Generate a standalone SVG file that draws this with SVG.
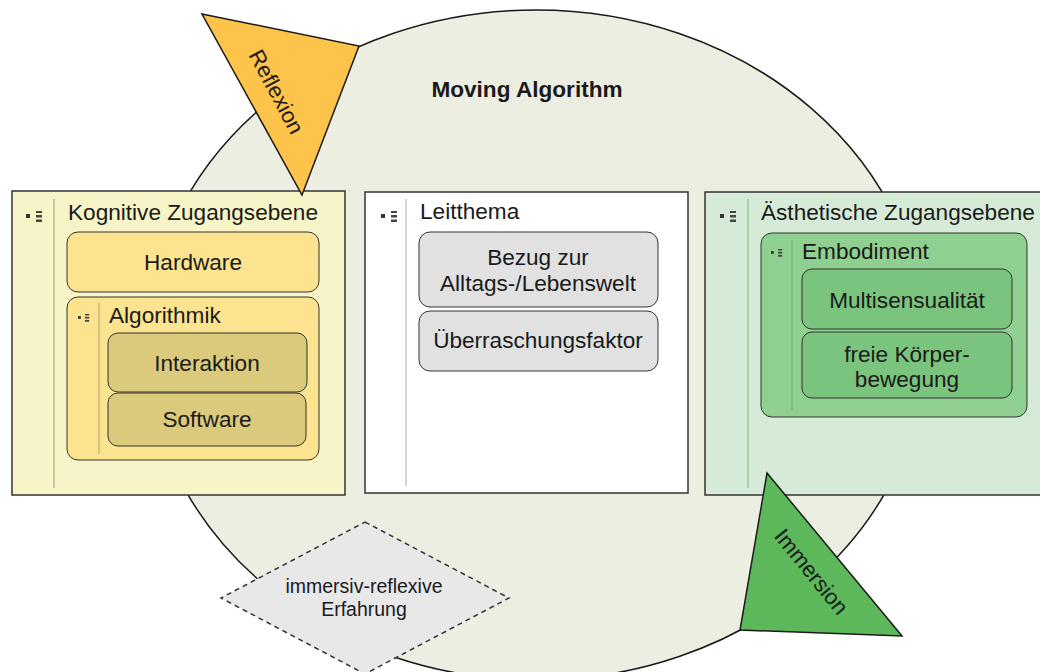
<svg xmlns="http://www.w3.org/2000/svg" width="1040" height="672" viewBox="0 0 1040 672">
  <style>
    text { font-family: "Liberation Sans", Arial, sans-serif; fill: #1a1a1a; }
    .lbl { font-size: 22.6px; }
    .mid { text-anchor: middle; }
    .outer { stroke: #333; stroke-width: 1.5; }
    .inner { stroke: #333; stroke-width: 1; }
    .tri { stroke: #1a1a1a; stroke-width: 1.5; stroke-linejoin: miter; }
  </style>
  <defs>
    <!-- small collapse/expand glyph shown at the top-left of each container -->
    <g id="fold">
      <rect x="0" y="3" width="4" height="4" fill="#333"/>
      <rect x="10" y="0" width="6" height="2" fill="#444"/>
      <rect x="10" y="4" width="6" height="2.5" fill="#444"/>
      <rect x="10" y="8.5" width="6" height="2.5" fill="#444"/>
    </g>
  </defs>

  <rect width="1040" height="672" fill="#ffffff"/>

  <!-- background cycle -->
  <g id="cycle">
    <ellipse cx="536" cy="345" rx="389" ry="335" fill="#eceee1" stroke="#1a1a1a" stroke-width="1.5"/>
    <text x="527" y="97" class="mid" style="font-size:22.6px;font-weight:bold">Moving Algorithm</text>
  </g>

  <!-- cognitive access level -->
  <g id="kognitiv">
    <rect x="12" y="191" width="333" height="304" fill="#f7f5c7" class="outer"/>
    <use href="#fold" x="26" y="211"/>
    <line x1="54" y1="199" x2="54" y2="488" stroke="#b9b79a" stroke-width="1.5"/>
    <text x="68" y="220" class="lbl">Kognitive Zugangsebene</text>
    <g id="hardware">
      <rect x="67" y="232" width="252" height="60" rx="11" fill="#fce390" class="inner"/>
      <text x="193" y="270" class="lbl mid">Hardware</text>
    </g>
    <g id="algorithmik">
      <rect x="67" y="297" width="252" height="163" rx="11" fill="#fce390" class="inner"/>
      <use href="#fold" x="78" y="314" transform="translate(78 314) scale(0.7) translate(-78 -314)"/>
      <line x1="99" y1="303" x2="99" y2="454" stroke="#c9b879" stroke-width="1.5"/>
      <text x="109" y="323" class="lbl">Algorithmik</text>
      <g id="interaktion">
        <rect x="108" y="333" width="199" height="59" rx="10" fill="#dbca7b" class="inner"/>
        <text x="207" y="371" class="lbl mid">Interaktion</text>
      </g>
      <g id="software">
        <rect x="108" y="393" width="198" height="53" rx="10" fill="#dbca7b" class="inner"/>
        <text x="207" y="427" class="lbl mid">Software</text>
      </g>
    </g>
  </g>

  <!-- guiding theme -->
  <g id="leitthema">
    <rect x="365" y="192" width="323" height="301" fill="#ffffff" class="outer"/>
    <use href="#fold" x="381" y="211"/>
    <line x1="406" y1="199" x2="406" y2="486" stroke="#c4c4c4" stroke-width="1.5"/>
    <text x="420" y="219" class="lbl">Leitthema</text>
    <g id="bezug">
      <rect x="419" y="232" width="239" height="75" rx="11" fill="#e1e1e1" class="inner"/>
      <text x="538" y="265" class="lbl mid">Bezug zur</text>
      <text x="538" y="291" class="lbl mid">Alltags-/Lebenswelt</text>
    </g>
    <g id="ueberraschung">
      <rect x="419" y="311" width="239" height="60" rx="11" fill="#e1e1e1" class="inner"/>
      <text x="538" y="348" class="lbl mid">Überraschungsfaktor</text>
    </g>
  </g>

  <!-- aesthetic access level -->
  <g id="aesthetisch">
    <rect x="705" y="192" width="345" height="303" fill="#d6ead8" class="outer"/>
    <use href="#fold" x="720" y="211"/>
    <line x1="748" y1="199" x2="748" y2="488" stroke="#9dc3a0" stroke-width="1.5"/>
    <text x="761" y="220" class="lbl">Ästhetische Zugangsebene</text>
    <g id="embodiment">
      <rect x="761" y="233" width="266" height="184" rx="11" fill="#8fcf8f" class="inner"/>
      <use href="#fold" x="771" y="249" transform="translate(771 249) scale(0.7) translate(-771 -249)"/>
      <line x1="792" y1="240" x2="792" y2="410" stroke="#74b978" stroke-width="1.5"/>
      <text x="802" y="259" class="lbl">Embodiment</text>
      <g id="multisensualitaet">
        <rect x="802" y="269" width="210" height="60" rx="10" fill="#7ac47e" class="inner"/>
        <text x="907" y="308" class="lbl mid">Multisensualität</text>
      </g>
      <g id="koerperbewegung">
        <rect x="802" y="332" width="210" height="66" rx="10" fill="#7ac47e" class="inner"/>
        <text x="907" y="362" class="lbl mid">freie Körper-</text>
        <text x="907" y="387" class="lbl mid">bewegung</text>
      </g>
    </g>
  </g>

  <!-- experience diamond -->
  <g id="erfahrung">
    <polygon points="365,522 509,598 365,674 221,598" fill="#e8e8e8" stroke="#333" stroke-width="1.5" stroke-dasharray="5,4"/>
    <text x="364" y="593" class="mid" style="font-size:19.5px">immersiv-reflexive</text>
    <text x="364" y="616" class="mid" style="font-size:19.5px">Erfahrung</text>
  </g>

  <!-- direction pointers -->
  <g id="connectors">
    <g id="reflexion">
      <polygon points="202,14 359,46 302,195" fill="#fdc34a" class="tri"/>
      <text transform="translate(276 92) rotate(62)" y="7" class="mid" style="font-size:22px">Reflexion</text>
    </g>
    <g id="immersion">
      <polygon points="767,473 902,636 740,630" fill="#5cb85a" class="tri"/>
      <text transform="translate(811 572) rotate(51)" y="7" class="mid" style="font-size:22px">Immersion</text>
    </g>
  </g>
</svg>
